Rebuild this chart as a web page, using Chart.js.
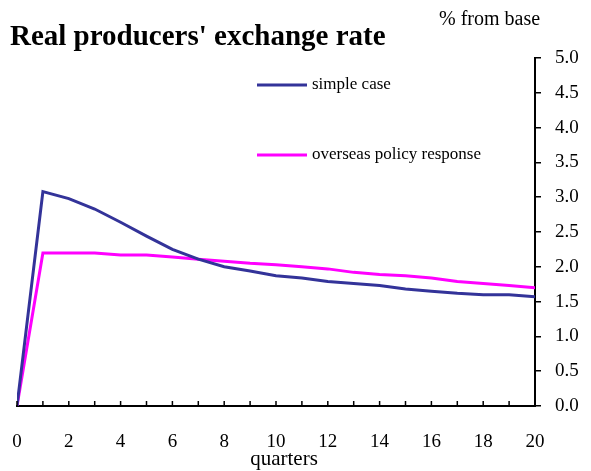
<!DOCTYPE html>
<html><head><meta charset="utf-8">
<script src="https://cdn.jsdelivr.net/npm/chart.js@4"></script>
<style>html,body{margin:0;padding:0;background:#fff;}#wrap{position:relative;width:591px;height:471px;}</style>
</head><body><div id="wrap"><canvas id="c" width="591" height="471"></canvas></div>
<script>
const quarters = [0,1,2,3,4,5,6,7,8,9,10,11,12,13,14,15,16,17,18,19,20];
const simpleCase = [0,3.08,2.98,2.83,2.64,2.44,2.25,2.11,2.00,1.94,1.87,1.84,1.79,1.76,1.73,1.68,1.65,1.62,1.60,1.60,1.57];
const overseas = [0,2.20,2.20,2.20,2.17,2.17,2.14,2.11,2.08,2.05,2.03,2.00,1.97,1.92,1.89,1.87,1.84,1.79,1.76,1.73,1.70];
const yTicks = [0,0.5,1,1.5,2,2.5,3,3.5,4,4.5,5];
const labels = ["simple case","overseas policy response"];
const title = "Real producers' exchange rate";
const unitLabel = "% from base";
const xTitle = "quarters";

const serif = "'Liberation Serif','DejaVu Serif',serif";
const decor = {
  id:'decor',
  afterDraw(chart){
    const ctx = chart.ctx, ca = chart.chartArea, xs = chart.scales.x;
    ctx.save();
    // x ticks upward
    ctx.strokeStyle='#000'; ctx.lineWidth=1.5;
    quarters.forEach(q=>{const px=xs.getPixelForValue(q);ctx.beginPath();ctx.moveTo(px,ca.bottom);ctx.lineTo(px,ca.bottom-5);ctx.stroke();});
    // title
    ctx.fillStyle='#000';
    ctx.font="bold 29px "+serif; ctx.textBaseline='alphabetic'; ctx.textAlign='left';
    ctx.fillText(title,10,45);
    ctx.font="20px "+serif;
    ctx.fillText(unitLabel,439,25);
    ctx.textAlign='center';
    ctx.font="21px "+serif;
    ctx.fillText(xTitle,284,465);
    // legend
    const cols=['#333399','#ff00ff']; const ys=[85,155];
    ctx.textAlign='left'; ctx.textBaseline='middle'; ctx.font="17px "+serif;
    labels.forEach((l,i)=>{
      ctx.strokeStyle=cols[i]; ctx.lineWidth=3;
      ctx.beginPath(); ctx.moveTo(257,ys[i]); ctx.lineTo(307,ys[i]); ctx.stroke();
      ctx.fillStyle='#000'; ctx.fillText(l,312,ys[i]);
    });
    ctx.restore();
  }
};
new Chart(document.getElementById('c'),{
  type:'line',
  data:{labels:quarters,datasets:[
    {label:labels[0],data:simpleCase.map((v,i)=>({x:quarters[i],y:v})),borderColor:'#333399',borderWidth:3,pointRadius:0,tension:0},
    {label:labels[1],data:overseas.map((v,i)=>({x:quarters[i],y:v})),borderColor:'#ff00ff',borderWidth:3,pointRadius:0,tension:0}
  ]},
  options:{
    responsive:false,animation:false,
    layout:{padding:{left:17,top:58,right:0,bottom:0}},
    plugins:{legend:{display:false},tooltip:{enabled:false}},
    scales:{
      x:{type:'linear',min:0,max:20,
        afterFit(s){s.height=65;},
        border:{display:true,color:'#000',width:2},
        grid:{display:true,drawOnChartArea:false,drawTicks:true,tickLength:22,tickColor:'rgba(0,0,0,0)'},
        ticks:{stepSize:1,autoSkip:false,maxRotation:0,padding:3,color:'#000',font:{family:serif,size:19},
          callback:v=>(v%2===0?String(v):'')}},
      y:{position:'right',min:0,max:5,
        afterFit(s){s.width=56;},
        afterBuildTicks(s){s.ticks=yTicks.map(v=>({value:v}));},
        border:{display:true,color:'#000',width:2},
        grid:{display:true,drawOnChartArea:false,drawTicks:true,tickLength:6,color:'#000',lineWidth:1.5},
        ticks:{padding:14,color:'#000',font:{family:serif,size:19},callback:v=>v.toFixed(1)}}
    }
  },
  plugins:[decor]
});
</script></body></html>
